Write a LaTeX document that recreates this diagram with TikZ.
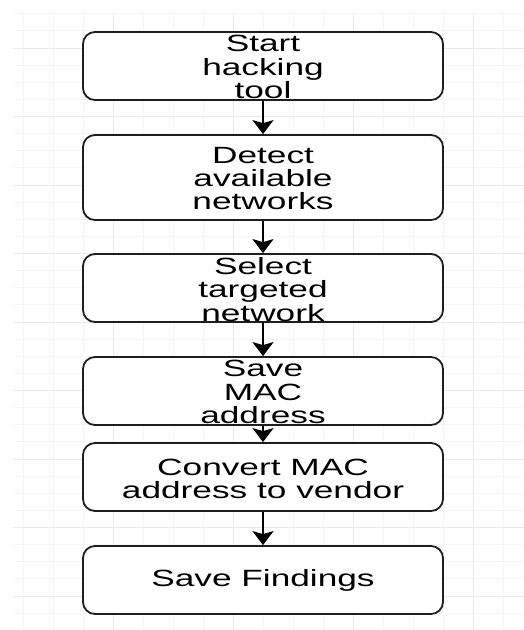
\documentclass[tikz,border=0pt]{standalone}
\usepackage{fontspec}
\setmainfont[FakeStretch=1.5]{Liberation Sans}
\usetikzlibrary{arrows.meta}
\definecolor{gridminor}{HTML}{F5F5F5}
\definecolor{gridmajor}{HTML}{EAEAEA}
\definecolor{boxline}{HTML}{1E1E1E}
\begin{document}
\begin{tikzpicture}[x=1pt,y=-1pt,
  stepbox/.style={draw=boxline,line width=1.8pt,rounded corners=12pt,fill=white,
    minimum width=360pt,minimum height=68pt,inner sep=0pt},
  steptext/.style={align=center,inner sep=0pt,text=black,
    font=\fontsize{23.5}{23.3}\selectfont},
  flow/.style={draw=black,line width=1.6pt,-{Stealth[length=14pt,width=21pt,inset=3pt]}}]
\useasboundingbox[fill=white] (0,0) rectangle (524,630);
% grid
\foreach \i in {0,...,17} {
  \draw[gridminor,line width=0.8pt] ({23+30*\i},13) -- ({23+30*\i},630);
}
\foreach \i in {0,...,36} {
  \draw[gridminor,line width=0.8pt] (13,{13.75+17.125*\i}) -- (524,{13.75+17.125*\i});
}
\foreach \i in {0,...,3} {
  \draw[gridmajor,line width=1pt] ({113+120*\i},13) -- ({113+120*\i},630);
}
\foreach \i in {0,...,8} {
  \draw[gridmajor,line width=1pt] (13,{48+68.5*\i}) -- (524,{48+68.5*\i});
}
% boxes
\node[stepbox] (b1) at (263,66) {};
\node[stepbox,minimum height=85pt] (b2) at (263,177.5) {};
\node[stepbox] (b3) at (263,288) {};
\node[stepbox] (b4) at (263,391) {};
\node[stepbox] (b5) at (263,477) {};
\node[stepbox] (b6) at (263,580) {};
% texts
\node[steptext] (t1) at ([yshift=-1pt]b1.center) {Start\\hacking\\tool};
\node[steptext] (t2) at ([yshift=-1pt]b2.center) {Detect\\available\\networks};
\node[steptext] (t3) at ([yshift=-1.5pt]b3.center) {Select\\targeted\\network};
\node[steptext] (t4) at ([yshift=-1pt]b4.center) {Save\\MAC\\address};
\node[steptext] (t5) at ([yshift=-2pt]b5.center) {Convert MAC\\address to vendor};
\node[steptext] (t6) at ([yshift=-0.5pt]b6.center) {Save Findings};
% connectors
\draw[flow] (b1.south) -- (b2.north);
\draw[flow] (b2.south) -- (b3.north);
\draw[flow] (b3.south) -- (b4.north);
\draw[flow] (b4.south) -- (b5.north);
\draw[flow] (b5.south) -- (b6.north);
\end{tikzpicture}
\end{document}
